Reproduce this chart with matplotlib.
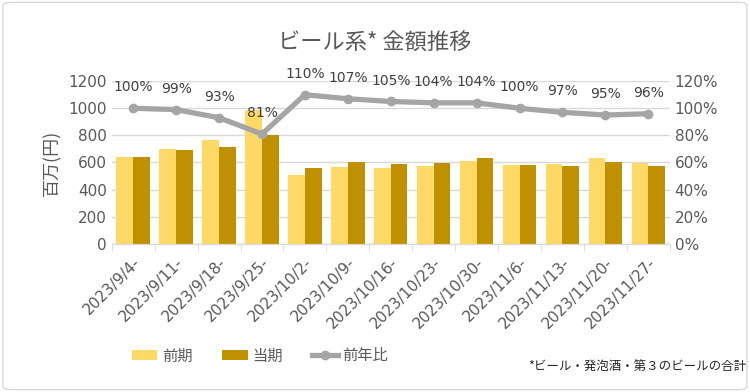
import matplotlib.pyplot as plt
import numpy as np
from matplotlib.patches import FancyBboxPatch

plt.rcParams['font.family'] = ['Noto Sans CJK JP', 'DejaVu Sans']

weeks = ['2023/9/4-', '2023/9/11-', '2023/9/18-', '2023/9/25-', '2023/10/2-',
         '2023/10/9-', '2023/10/16-', '2023/10/23-', '2023/10/30-', '2023/11/6-',
         '2023/11/13-', '2023/11/20-', '2023/11/27-']
prev = [640, 700, 766, 987, 508, 567, 560, 574, 611, 582, 589, 633, 596]
curr = [640, 692, 714, 803, 560, 604, 589, 596, 633, 582, 574, 604, 574]
ratio = [100, 99, 93, 81, 110, 107, 105, 104, 104, 100, 97, 95, 96]

c_prev = '#FFD966'
c_curr = '#BF9000'
c_line = '#A5A5A5'
txt = '#595959'

fig = plt.figure(figsize=(7.5, 3.92), dpi=100)
# rahmen
fig.patches.append(FancyBboxPatch((0.004, 0.006), 0.992, 0.988, boxstyle='round,pad=0,rounding_size=0.01',
                                  transform=fig.transFigure, fc='white', ec='#D9D9D9', lw=1, zorder=-10))
ax = fig.add_axes([0.149, 0.378, 0.744, 0.415])
ax2 = ax.twinx()

x = np.arange(len(weeks))
w = 0.39
ax.bar(x - w / 2, prev, w, color=c_prev, label='前期', zorder=2)
ax.bar(x + w / 2, curr, w, color=c_curr, label='当期', zorder=2)

ax2.plot(x, ratio, color=c_line, lw=3.8, marker='o', ms=6, label='前年比', zorder=3)
for xi, r in zip(x, ratio):
    ax2.annotate(f'{r}%', (xi, r), xytext=(0, 10), textcoords='offset points',
                 ha='center', va='bottom', fontsize=10, color='#404040', family='DejaVu Sans')

ax.set_xlim(-0.5, len(weeks) - 0.5)
ax.set_ylim(0, 1200)
ax.set_yticks(range(0, 1201, 200))
ax2.set_ylim(0, 120)
ax2.set_yticks(range(0, 121, 20))
ax2.set_yticklabels([f'{v}%' for v in range(0, 121, 20)])

ax.grid(axis='y', color='#D9D9D9', lw=1, zorder=0)
ax.set_axisbelow(True)
ax.set_xticks(x)
ax.set_xticklabels(weeks, rotation=45, ha='right', rotation_mode='anchor', fontsize=11, color=txt,
                   family='DejaVu Sans')
ax.set_xticks(np.arange(-0.5, len(weeks)), minor=True)
ax.tick_params(axis='x', which='major', length=0, pad=8)
ax.tick_params(axis='x', which='minor', length=5, color='#D9D9D9')
ax.tick_params(axis='y', length=0, labelsize=11, labelcolor=txt)
ax2.tick_params(axis='y', length=0, labelsize=11, labelcolor=txt)
for a in (ax, ax2):
    for s in ('top', 'left', 'right'):
        a.spines[s].set_visible(False)
    a.spines['bottom'].set_color('#D9D9D9')
for lab in ax.get_yticklabels() + ax2.get_yticklabels():
    lab.set_family('DejaVu Sans')

ax.set_ylabel('百万(円)', fontsize=13, color=txt, labelpad=5)
fig.text(0.5, 0.89, 'ビール系* 金額推移', ha='center', va='center', fontsize=16, color=txt)

h1, l1 = ax.get_legend_handles_labels()
h2, l2 = ax2.get_legend_handles_labels()
fig.legend(h1 + h2, l1 + l2, loc='center left', bbox_to_anchor=(0.157, 0.092), ncol=3, frameon=False,
           fontsize=11, labelcolor=txt, handlelength=1.7, columnspacing=1.9, handletextpad=0.3)
fig.text(0.995, 0.062, '*ビール・発泡酒・第３のビールの合計', ha='right', va='center', fontsize=9, color='#262626')

fig.savefig('out.png', dpi=100)
